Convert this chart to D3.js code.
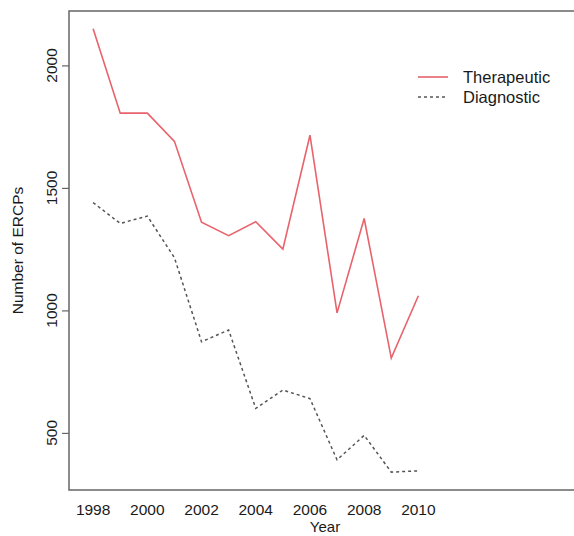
<!DOCTYPE html>
<html>
<head>
<meta charset="utf-8">
<script src="https://cdn.jsdelivr.net/npm/d3@7"></script>
<style>
  body { margin: 0; background: #fff; }
  svg text { font-family: "Liberation Sans", Arial, sans-serif; fill: #1a1a1a; }
</style>
</head>
<body>
<div id="chart"></div>
<script>
// data
const years = [1998, 1999, 2000, 2001, 2002, 2003, 2004, 2005, 2006, 2007, 2008, 2009, 2010];
const therapeutic = [2150, 1805, 1805, 1690, 1360, 1305, 1362, 1250, 1715, 990, 1375, 805, 1060];
const diagnostic = [1440, 1355, 1385, 1215, 872, 920, 600, 675, 640, 390, 490, 340, 345];
const xTicks = [1998, 2000, 2002, 2004, 2006, 2008, 2010];
const yTicks = [500, 1000, 1500, 2000];
const seriesNames = ['Therapeutic', 'Diagnostic'];

const width = 574, height = 536;
const box = { left: 69, top: 11, right: 581, bottom: 490 };

const svg = d3.select('#chart').append('svg')
  .attr('width', width)
  .attr('height', height);

const x = d3.scaleLinear()
  .domain([1997.11, 2016])
  .range([box.left, box.right]);

const y = d3.scaleLinear()
  .domain([267, 2222])
  .range([box.bottom, box.top]);

// plot frame
svg.append('rect')
  .attr('x', box.left)
  .attr('y', box.top)
  .attr('width', box.right - box.left)
  .attr('height', box.bottom - box.top)
  .attr('fill', 'none')
  .attr('stroke', '#666')
  .attr('stroke-width', 1.5);

// y axis ticks + rotated labels (R style)
const yAxis = svg.append('g')
  .attr('transform', `translate(${box.left},0)`)
  .call(d3.axisLeft(y).tickValues(yTicks).tickSize(7).tickPadding(0).tickFormat(''));
yAxis.select('.domain').remove();
yAxis.selectAll('line').attr('stroke', '#666').attr('stroke-width', 1.2);

svg.selectAll('.ylab')
  .data(yTicks)
  .enter().append('text')
  .attr('class', 'ylab')
  .attr('transform', d => `translate(57,${y(d)}) rotate(-90)`)
  .attr('text-anchor', 'middle')
  .attr('font-size', 15.5)
  .text(d => d);

// x tick labels (no tick marks in reference)
svg.selectAll('.xlab')
  .data(xTicks)
  .enter().append('text')
  .attr('class', 'xlab')
  .attr('x', d => x(d))
  .attr('y', 515)
  .attr('text-anchor', 'middle')
  .attr('font-size', 15.5)
  .text(d => d);

svg.append('text')
  .attr('x', (box.left + box.right) / 2)
  .attr('y', 532)
  .attr('text-anchor', 'middle')
  .attr('font-size', 15)
  .text('Year');

svg.append('text')
  .attr('transform', `translate(23,${(box.top + box.bottom) / 2}) rotate(-90)`)
  .attr('text-anchor', 'middle')
  .attr('font-size', 15.5)
  .text('Number of ERCPs');

const line = d3.line()
  .x((d, i) => x(years[i]))
  .y(d => y(d));

svg.append('path')
  .datum(therapeutic)
  .attr('d', line)
  .attr('fill', 'none')
  .attr('stroke', '#e8636c')
  .attr('stroke-width', 1.6);

svg.append('path')
  .datum(diagnostic)
  .attr('d', line)
  .attr('fill', 'none')
  .attr('stroke', '#555')
  .attr('stroke-width', 1.5)
  .attr('stroke-dasharray', '3,3');

// legend
const legend = svg.append('g').attr('transform', 'translate(418,77)');
seriesNames.forEach((name, i) => {
  const g = legend.append('g').attr('transform', `translate(0,${i * 20})`);
  g.append('line')
    .attr('x1', 0).attr('x2', 30)
    .attr('y1', 0).attr('y2', 0)
    .attr('stroke', i === 0 ? '#e8636c' : '#555')
    .attr('stroke-width', i === 0 ? 1.6 : 1.5)
    .attr('stroke-dasharray', i === 0 ? null : '3,3');
  g.append('text')
    .attr('x', 45)
    .attr('y', 6)
    .attr('font-size', 16.5)
    .text(name);
});
</script>
</body>
</html>
